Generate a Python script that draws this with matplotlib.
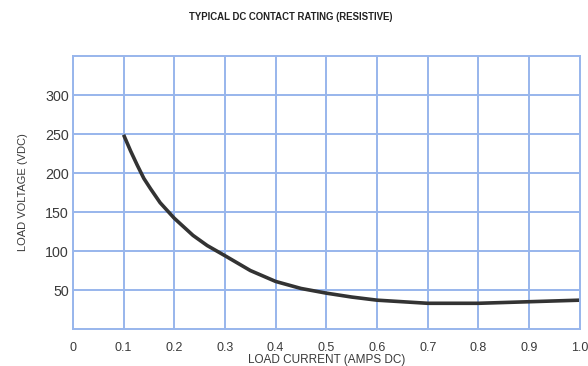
import matplotlib
matplotlib.use("Agg")
import matplotlib.pyplot as plt

plt.rcParams['font.family'] = ['Liberation Sans', 'DejaVu Sans']

# curve
current = [0.100, 0.114, 0.127, 0.140, 0.153, 0.172, 0.200, 0.237, 0.265,
           0.300, 0.350, 0.400, 0.450, 0.500, 0.550, 0.600, 0.650, 0.700,
           0.750, 0.800, 0.850, 0.900, 0.950, 1.000]
voltage = [249, 228, 210, 193, 180, 162, 142, 120, 107,
           94, 75, 61, 52, 46, 41, 37, 35, 33,
           33, 33, 34, 35, 36, 37]

x_ticks = [0, 0.1, 0.2, 0.3, 0.4, 0.5, 0.6, 0.7, 0.8, 0.9, 1.0]
x_labels = ['0', '0.1', '0.2', '0.3', '0.4', '0.5', '0.6', '0.7', '0.8', '0.9', '1.0']
y_ticks = [50, 100, 150, 200, 250, 300]

grid_col = '#98b6ec'
text_col = '#3a3a3a'

fig = plt.figure(figsize=(5.88, 3.66), dpi=100)
ax = fig.add_axes([0.124, 0.101, 0.862, 0.746])

ax.plot(current, voltage, color='#333333', lw=2.6, solid_capstyle='butt',
        solid_joinstyle='round')

ax.set_xlim(0, 1.0)
ax.set_ylim(0, 350)
ax.set_xticks(x_ticks)
ax.set_xticklabels(x_labels)
ax.set_yticks(y_ticks)
ax.grid(True, color=grid_col, lw=1.4)
ax.set_axisbelow(True)
for s in ax.spines.values():
    s.set_color(grid_col)
    s.set_linewidth(1.4)
ax.tick_params(length=0, colors=text_col)
ax.tick_params(axis='x', pad=9, labelsize=9)
ax.tick_params(axis='y', pad=3, labelsize=10.3)

ax.set_xlabel('LOAD CURRENT (AMPS DC)', fontsize=8.5, color=text_col, labelpad=0)
ax.set_ylabel('LOAD VOLTAGE (VDC)', fontsize=8, color=text_col, labelpad=12)
fig.text(0.495, 0.954, 'TYPICAL DC CONTACT RATING (RESISTIVE)', ha='center', va='center',
         fontsize=6.9, fontweight='bold', color='#222222')

fig.savefig('out.png', dpi=100, facecolor='white')
